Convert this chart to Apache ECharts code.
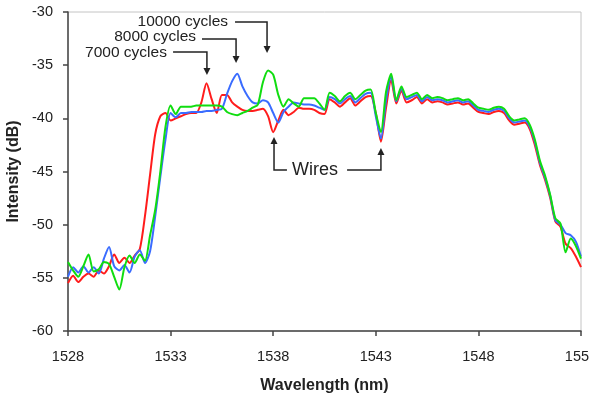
<!DOCTYPE html>
<html>
<head>
<meta charset="utf-8">
<script src="https://cdn.jsdelivr.net/npm/echarts@6/dist/echarts.min.js"></script>
<style>
  html, body { margin: 0; padding: 0; background: #fff; }
  #chart { width: 589px; height: 398px; }
</style>
</head>
<body>
<div id="chart"></div>
<script>
// wavelength grid (nm)
const wavelength = [
  1528, 1528.25, 1528.5, 1528.75, 1529, 1529.25, 1529.5, 1529.75, 1530, 1530.25,
  1530.5, 1530.75, 1531, 1531.25, 1531.5, 1531.75, 1532, 1532.25, 1532.5, 1532.75,
  1533, 1533.25, 1533.5, 1533.75, 1534, 1534.25, 1534.5, 1534.75, 1535, 1535.25,
  1535.5, 1535.75, 1536, 1536.25, 1536.5, 1536.75, 1537, 1537.25, 1537.5, 1537.75,
  1538, 1538.25, 1538.5, 1538.75, 1539, 1539.25, 1539.5, 1539.75, 1540, 1540.25,
  1540.5, 1540.75, 1541, 1541.25, 1541.5, 1541.75, 1542, 1542.25, 1542.5, 1542.75,
  1543, 1543.25, 1543.5, 1543.75, 1544, 1544.25, 1544.5, 1544.75, 1545, 1545.25,
  1545.5, 1545.75, 1546, 1546.25, 1546.5, 1546.75, 1547, 1547.25, 1547.5, 1547.75,
  1548, 1548.25, 1548.5, 1548.75, 1549, 1549.25, 1549.5, 1549.75, 1550, 1550.25,
  1550.5, 1550.75, 1551, 1551.25, 1551.5, 1551.75, 1552, 1552.25, 1552.5, 1552.75,
  1553
];

// intensity (dB) after 7000 cycles (red)
const cycles7000 = [
  -55.5, -54.8, -55.4, -54.9, -54.6, -54.9, -54.3, -54.6, -53.9, -52.8,
  -53.6, -53.1, -53.6, -52.9, -52.3, -49.2, -45.3, -41.5, -39.8, -39.5,
  -40.2, -40.0, -39.8, -39.6, -39.5, -39.5, -38.5, -36.7, -38.2, -39.5,
  -37.8, -37.8, -38.5, -38.9, -39.2, -39.3, -39.3, -39.2, -39.1, -39.8,
  -41.3, -40.2, -39.2, -39.7, -39.4, -39.0, -39.1, -39.1, -39.2, -39.5,
  -39.6, -38.2, -38.5, -38.9, -38.5, -38.1, -38.8, -38.4, -38.0, -37.9,
  -39.5, -42.2, -39.0, -36.4, -38.6, -37.4, -38.5, -38.3, -38.0, -38.6,
  -38.2, -38.5, -38.4, -38.5, -38.7, -38.6, -38.5, -38.7, -38.6, -39.0,
  -39.4, -39.5, -39.6, -39.4, -39.3, -39.5, -40.2, -40.6, -40.5, -40.4,
  -41.0, -42.5, -44.4, -45.8, -47.5, -49.7, -50.2, -51.8, -52.2, -53.0,
  -54.0
];

// intensity (dB) after 8000 cycles (blue)
const cycles8000 = [
  -54.9, -54.0, -54.5, -53.9, -54.5, -54.0, -54.6, -53.2, -52.1, -53.9,
  -54.3, -53.8, -54.5, -53.0, -52.4, -53.6, -52.5, -49.2, -45.5, -42.0,
  -39.5, -39.9, -39.5, -39.5, -39.4, -39.4, -39.4, -39.3, -39.3, -39.2,
  -39.1, -37.7, -36.5, -35.8, -37.0, -37.9, -38.5, -38.6, -38.3, -38.5,
  -39.5, -40.4, -39.4, -38.9, -38.5, -38.6, -38.7, -38.7, -38.8, -39.0,
  -39.2, -38.0, -38.2, -38.6, -38.2, -37.9, -38.5, -38.1, -37.7, -37.6,
  -39.8, -41.9, -38.3, -36.1, -38.4, -37.2, -38.2, -38.0, -37.8, -38.4,
  -38.0, -38.3, -38.2, -38.3, -38.5, -38.4, -38.3, -38.5, -38.4, -38.8,
  -39.2, -39.3, -39.4, -39.2, -39.1, -39.3, -40.0, -40.4, -40.3, -40.2,
  -40.8, -42.2, -44.2, -45.6, -47.3, -49.6, -50.0, -50.8, -51.0, -51.6,
  -53.0
];

// intensity (dB) after 10000 cycles (green)
const cycles10000 = [
  -53.5, -54.3, -54.9, -53.9, -52.8, -54.4, -54.2, -53.5, -53.7, -54.9,
  -56.1, -54.0, -52.9, -53.6, -52.8, -53.4, -51.0, -48.6, -45.0, -40.8,
  -38.8, -39.6, -38.9, -38.9, -38.9, -38.8, -38.8, -38.8, -38.8, -38.8,
  -38.9, -39.4, -39.6, -39.7, -39.5, -39.3, -39.0, -38.7, -36.6, -35.5,
  -35.9, -37.8, -38.9, -38.2, -38.6, -38.9, -38.1, -38.1, -38.1, -38.6,
  -39.2, -37.6, -37.9, -38.4, -37.9, -37.6, -38.2, -37.8, -37.4, -37.3,
  -39.5, -41.3, -37.5, -35.8, -38.3, -37.0, -38.0, -37.8, -37.6, -38.2,
  -37.8, -38.1, -38.0, -38.1, -38.3, -38.2, -38.1, -38.3, -38.2, -38.6,
  -39.0, -39.1, -39.2, -39.0, -38.9, -39.1, -39.8, -40.2, -40.1, -40.0,
  -40.6, -42.0, -44.0, -45.4, -47.2, -49.4, -49.9, -52.6, -51.3, -52.0,
  -53.2
];

// callouts, in data units (nm, dB)
const callouts = [
  { text: "10000 cycles", at: [1535.8, -30.94], align: "right", size: 15.5,
    path: [[1536.14, -30.94], [1537.70, -30.94], [1537.70, -33.86]] },
  { text: "8000 cycles", at: [1534.24, -32.3], align: "right", size: 15.5,
    path: [[1534.53, -32.54], [1536.19, -32.54], [1536.19, -34.8]] },
  { text: "7000 cycles", at: [1532.82, -33.86], align: "right", size: 15.5,
    path: [[1533.12, -33.76], [1534.77, -33.76], [1534.77, -35.93]] },
  { text: "Wires", at: [1540.04, -44.86], align: "center", size: 18,
    path: [[1538.67, -44.86], [1538.04, -44.86], [1538.04, -41.76]] },
  { text: "", at: null, align: "center", size: 18,
    path: [[1541.60, -44.86], [1543.25, -44.86], [1543.25, -42.79]] }
];

const FONT = "'Liberation Sans', Arial, sans-serif";
const chart = echarts.init(document.getElementById("chart"));

const makeSeries = (name, values, color) => ({
  name: name,
  type: "line",
  data: wavelength.map((w, i) => [w, values[i]]),
  showSymbol: false,
  smooth: 0.25,
  lineStyle: { color: color, width: 2 },
  itemStyle: { color: color },
});

chart.setOption({
  animation: false,
  backgroundColor: "#ffffff",
  textStyle: { fontFamily: FONT },
  grid: {
    left: 68,
    right: 8,
    top: 12,
    bottom: 67,
    containLabel: false,
    outerBoundsMode: "none",
    show: true,
    borderColor: "#c4c4c4",
    borderWidth: 1,
  },
  xAxis: {
    type: "value",
    min: 1528,
    max: 1553,
    interval: 5,
    name: "Wavelength (nm)",
    nameLocation: "middle",
    nameGap: 47,
    nameTextStyle: { fontSize: 16, fontWeight: "bold", color: "#222", fontFamily: FONT },
    axisLine: { lineStyle: { color: "#444", width: 1.5 } },
    axisTick: { show: true, inside: false, length: 5, lineStyle: { color: "#444", width: 1.5 } },
    axisLabel: {
      fontSize: 14.5, color: "#222", margin: 18, fontFamily: FONT,
      hideOverlap: false,
      formatter: (v) => String(v),
    },
    splitLine: { show: false },
  },
  yAxis: {
    type: "value",
    min: -60,
    max: -30,
    interval: 5,
    name: "Intensity (dB)",
    nameLocation: "middle",
    nameGap: 40,
    nameTextStyle: { fontSize: 16, fontWeight: "bold", color: "#222", fontFamily: FONT },
    axisLine: { show: true, lineStyle: { color: "#444", width: 1.5 } },
    axisTick: { show: true, inside: false, length: 5, lineStyle: { color: "#444", width: 1.5 } },
    axisLabel: { fontSize: 14.5, color: "#222", margin: 15, fontFamily: FONT },
    splitLine: { show: false },
  },
  series: [
    makeSeries("7000 cycles", cycles7000, "#ff1c1c"),
    makeSeries("8000 cycles", cycles8000, "#3a6cff"),
    makeSeries("10000 cycles", cycles10000, "#10dd10"),
  ],
});

// draw callout arrows and labels once the axes exist
const toPx = (p) => chart.convertToPixel({ xAxisIndex: 0, yAxisIndex: 0 }, p);
const graphics = [];
callouts.forEach((c) => {
  const pts = c.path.map(toPx);
  const tip = pts[pts.length - 1];
  const prev = pts[pts.length - 2];
  const dx = tip[0] - prev[0];
  const dy = tip[1] - prev[1];
  const len = Math.sqrt(dx * dx + dy * dy) || 1;
  const ux = dx / len, uy = dy / len;
  const headLen = 7, headW = 3.5;
  const base = [tip[0] - ux * headLen, tip[1] - uy * headLen];
  const linePts = pts.slice(0, -1).concat([base]);
  graphics.push({
    type: "polyline",
    silent: true,
    shape: { points: linePts },
    style: { stroke: "#222", lineWidth: 1.5, fill: null },
  });
  graphics.push({
    type: "polygon",
    silent: true,
    shape: {
      points: [
        tip,
        [base[0] - uy * headW, base[1] + ux * headW],
        [base[0] + uy * headW, base[1] - ux * headW],
      ],
    },
    style: { fill: "#222" },
  });
  if (c.text) {
    const at = toPx(c.at);
    graphics.push({
      type: "text",
      silent: true,
      x: at[0],
      y: at[1],
      style: {
        text: c.text,
        fill: "#222",
        font: c.size + "px " + FONT,
        textAlign: c.align,
        textVerticalAlign: "middle",
      },
    });
  }
});
chart.setOption({ graphic: graphics });
</script>
</body>
</html>
